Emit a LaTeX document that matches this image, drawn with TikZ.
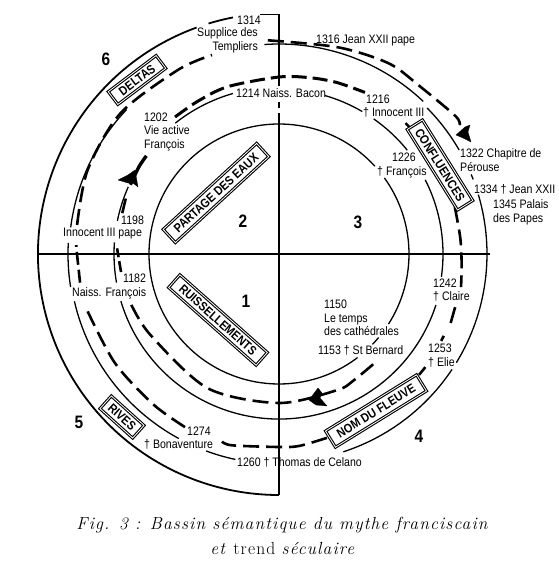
\documentclass[tikz,border=0pt]{standalone}
\usepackage{fontspec}
\setsansfont{Liberation Sans}[FakeStretch=0.86]
\newfontfamily\capfont{Latin Modern Roman}[LetterSpace=6.4]
\tikzset{
  ring/.style={line width=1.3pt},
  course/.style={line width=2.6pt,dash pattern=on 16pt off 7pt},
  lbl/.style={font=\sffamily\fontsize{12.3}{13.6}\selectfont,align=left,anchor=west,inner sep=0pt},
  basin/.style={draw,fill=white,double,double distance=.8pt,line width=1.1pt,inner sep=0pt,
    font=\sffamily\bfseries\fontsize{12.6}{12.6}\selectfont},
  zone/.style={font=\sffamily\bfseries\fontsize{18}{18}\selectfont,inner sep=0pt},
  plane/.style={fill=black,draw=black,line width=.3pt,line join=round},
  legend/.style={font=\capfont\fontsize{17.5}{17.5}\selectfont,inner sep=0pt}
}
\begin{document}
\begin{tikzpicture}[x=1pt,y=-1pt]
  \useasboundingbox (0,0) rectangle (558,562);
  % axes
  \draw[line width=1.2pt] (37,254) -- (490,254);
  \draw[line width=1.4pt] (260,14.5) -- (279,14.5) -- (279,86) (279,102) -- (279,108) (279,113) -- (279,495);

  \begin{scope}[shift={(279,254)},y=1pt]
    % outer limit
    \foreach \sa/\ea in {110/270,107/101}
      \draw[line width=1.8pt] (\sa:241pt) arc[start angle=\sa,end angle=\ea,radius=241pt];
    % solid rings, broken at the labels
    \foreach \sa/\ea/\rr in {
      42.5/307.2/130,-32.6/35.8/130,-40/-44/130,
      128.4/106/167,73.8/59.7/165,55/39/165,26.9/-8/164,-18/-163.4/165,190/176/165,168.4/156/165,
      94/46.6/210,44.6/30/208,22.5/21/208,16.6/-31.5/208,-33.7/-72/208,258/249.7/210,241.5/193/210,189/177/211,172.7/136.5/210}
      \draw[ring] (\sa:\rr pt) arc[start angle=\sa,end angle=\ea,radius=\rr pt];

    % river course, inner turn
    \draw[course] plot[smooth] coordinates {(-49.5:145pt) (-60:147pt) (-67:148pt) (-90:149pt) (-118:152pt) (-148:152pt) (-162:156.5pt)};
    \draw[course,dash pattern=on 11pt off 4pt] plot[smooth] coordinates {(186.5:159pt) (180:161pt) (178:162pt)};
    \draw[course,dash pattern=on 15pt off 4pt] plot[smooth] coordinates {(165.4:162pt) (160:163pt)};
    \draw[line width=3.4pt] plot[smooth] coordinates {(155:164pt) (148:165pt) (143.5:165pt)};
    \draw[course,line width=3pt,dash pattern=on 15pt off 6pt] plot[smooth] coordinates {(127.2:172pt) (118:173pt) (107:175pt) (90:177pt) (80:179pt) (71.4:181pt) (62:183pt)};
    \draw[line width=2.5pt] (46:182pt) -- (43:182pt);
    % river course, outer turn
    \draw[course] plot[smooth] coordinates {(15:182pt) (5:182pt) (-3.5:183pt) (-10.3:185pt)};
    \draw[line width=2.6pt] (-16.8:184pt) -- (-21.9:185pt) (-26.4:184pt) -- (-28.2:184pt) (-37.7:185pt) -- (-40.8:185pt);
    \draw[course] plot[smooth] coordinates {(-75.4:190pt) (-84:193pt) (-90:193pt) (-103.8:197pt) (-106.9:196pt)};
    \draw[course] plot[smooth] coordinates {(-118.5:197pt) (-130:196pt) (-146.4:197pt) (-163.7:200pt)};
    \draw[course,dash pattern=on 13pt off 5pt] plot[smooth] coordinates {(-171.8:201pt) (180:202pt) (177.5:203pt)};
    \draw[course] plot[smooth] coordinates {(171.8:204pt) (156.3:209pt) (138.4:212pt) (118.8:210pt) (108.6:210pt)};
    \draw[course] plot[smooth] coordinates {(93:214pt) (74:215pt) (60:220pt) (50:219pt) (38:224pt) (35.5:222pt)};
  \end{scope}

  % planes
  \fill[plane] (118,180) -- (128,175) -- (135,170) -- (138,187) -- (133,183) -- (128,183) -- cycle;
  \fill[plane] (456,135) -- (465,127) -- (470,125) -- (468,132) -- (471,142) -- (463,138) -- cycle;
  \fill[plane] (309,400) -- (318,388) -- (322,393) -- (320,398) -- (327,406) -- (316,405) -- cycle;

  % boxes
  \node[basin,rotate=37,minimum width=60pt,minimum height=16pt] (deltas) at (137,80) {DELTAS};
  \node[basin,rotate=42.6,minimum width=127pt,minimum height=18pt] (partage) at (216,193) {PARTAGE DES EAUX};
  \node[basin,rotate=-41.6,minimum width=117pt,minimum height=17pt] (ruiss) at (218,320) {RUISSELLEMENTS};
  \node[basin,rotate=-42,minimum width=44pt,minimum height=17pt] (rives) at (122,417) {RIVES};
  \node[basin,rotate=-58,minimum width=95pt,minimum height=18pt] (confl) at (440,165) {CONFLUENCES};
  \node[basin,rotate=31.7,minimum width=107pt,minimum height=19pt] (fleuve) at (376,411) {NOM DU FLEUVE};

  % zones
  \node[zone] (z1) at (246,301) {1};
  \node[zone] (z2) at (243,221) {2};
  \node[zone] (z3) at (358,222) {3};
  \node[zone] (z4) at (419,436) {4};
  \node[zone] (z5) at (79,422) {5};
  \node[zone] (z6) at (106,59) {6};

  % dates
  \node[lbl] (l1314) at (237,20) {1314};
  \node[lbl,anchor=east,align=right] (lTempl) at (258,40.5) {Supplice des\\Templiers};
  \node[lbl] (l1316) at (316,40) {1316 Jean XXII pape};
  \node[lbl] (l1214) at (236,93) {1214 Naiss. Bacon};
  \node[lbl] (l1216) at (363,106) {\hspace*{3pt}1216\\† Innocent III};
  \node[lbl] (l1226) at (392,157) {1226};
  \node[lbl] (lFr) at (377,172) {† François};
  \node[lbl] (l1322) at (460,160) {1322 Chapitre de\\Pérouse};
  \node[lbl] (l1334) at (474,189) {1334 † Jean XXII};
  \node[lbl] (l1345) at (493,212.5) {1345 Palais\\des Papes};
  \node[lbl] (l1202) at (144,132) {1202\\Vie active\\François};
  \node[lbl] (l1198) at (121,220) {1198};
  \node[lbl] (lInn) at (63,234) {Innocent III pape};
  \node[lbl] (l1182) at (123,278) {1182};
  \node[lbl] (lNaiss) at (72,293) {Naiss. François};
  \node[lbl] (l1150) at (324,318) {1150\\Le temps\\des cathédrales};
  \node[lbl] (l1153) at (318,350) {1153 † St Bernard};
  \node[lbl] (l1242) at (433,290) {1242\\† Claire};
  \node[lbl] (l1253) at (428,355.5) {1253\\† Elie};
  \node[lbl] (l1274) at (187,431) {1274};
  \node[lbl] (lBon) at (144,444) {† Bonaventure};
  \node[lbl] (l1260) at (237,462) {1260 † Thomas de Celano};

  % caption
  \node[legend] (capA) at (282,525) {\itshape Fig. 3 : Bassin sémantique du mythe franciscain};
  \node[legend] (capB) at (283,548) {\textit{et} trend \textit{séculaire}};
\end{tikzpicture}
\end{document}
